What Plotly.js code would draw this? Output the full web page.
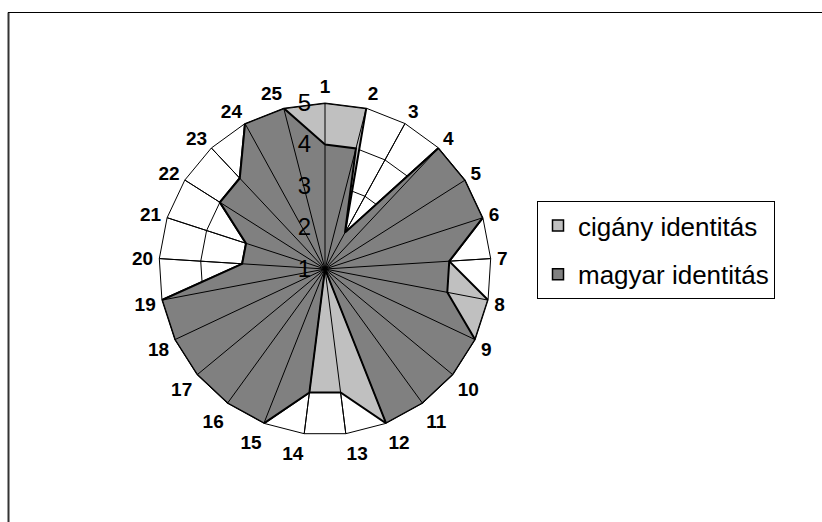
<!DOCTYPE html>
<html>
<head>
<meta charset="utf-8">
<script src="https://cdn.plot.ly/plotly-3.0.1.min.js"></script>
<style>
html,body{margin:0;padding:0;background:#fff;}
#chart{width:822px;height:522px;}
</style>
</head>
<body>
<div id="chart"></div>
<script>
// Data
const categories = ["1","2","3","4","5","6","7","8","9","10","11","12","13","14","15","16","17","18","19","20","21","22","23","24","25"];
const ciganyValues = [5,5,2,5,5,5,4,5,5,5,5,5,4,4,5,5,5,5,5,3,3,4,4,5,5];
const magyarValues = [4,4,2,5,5,5,4,4,5,5,5,5,1,4,5,5,5,5,5,3,3,4,4,5,5];
const seriesNames = ["cigány identitás", "magyar identitás"];
const radialTicks = [1,2,3,4,5];

const FONT = "Arial, 'Liberation Sans', sans-serif";
const closeLoop = a => a.concat([a[0]]);

const rMin = radialTicks[0], rMax = radialTicks[radialTicks.length-1];

// spokes drawn above fills (Excel draws them over the areas)
const spokeR = [], spokeT = [];
categories.forEach(c => { spokeR.push(rMin, rMax, null); spokeT.push(c, c, null); });

const traces = [
  {type:'scatterpolar', r:closeLoop(ciganyValues), theta:closeLoop(categories), mode:'lines',
   fill:'toself', fillcolor:'#C0C0C0', line:{color:'#000', width:2}, name:seriesNames[0],
   showlegend:false, hoverinfo:'skip'},
  {type:'scatterpolar', r:closeLoop(magyarValues), theta:closeLoop(categories), mode:'lines',
   fill:'toself', fillcolor:'#808080', line:{color:'#000', width:2}, name:seriesNames[1],
   showlegend:false, hoverinfo:'skip'},
  {type:'scatterpolar', r:spokeR, theta:spokeT, mode:'lines', line:{color:'#000', width:1},
   showlegend:false, hoverinfo:'skip', connectgaps:false},
  {type:'scatterpolar', r:[null], theta:[null], mode:'markers', name:seriesNames[0],
   legendgroup:'a', marker:{symbol:'square', size:11, color:'#C0C0C0', line:{color:'#000', width:1.5}}},
  {type:'scatterpolar', r:[null], theta:[null], mode:'markers', name:seriesNames[1],
   legendgroup:'b', marker:{symbol:'square', size:11, color:'#808080', line:{color:'#000', width:1.5}}}
];

const W = 822, H = 522;
const cx = 325, cy = 269, R = 166;

const layout = {
  width: W, height: H,
  margin:{l:0, r:0, t:0, b:0},
  paper_bgcolor:'#fff',
  font:{family:FONT, color:'#000'},
  showlegend:true,
  legend:{
    x: 537/W, y: 1-201/H, xanchor:'left', yanchor:'top',
    bordercolor:'#000', borderwidth:1, bgcolor:'#fff',
    font:{family:FONT, size:26, color:'#000'},
    traceorder:'grouped', tracegroupgap:12
  },
  polar:{
    domain:{x:[(cx-R)/W, (cx+R)/W], y:[(H-cy-R)/H, (H-cy+R)/H]},
    bgcolor:'#fff',
    gridshape:'linear',
    angularaxis:{
      type:'category', categoryarray:categories, direction:'clockwise', rotation:90,
      showline:true, linecolor:'#000', linewidth:1,
      showgrid:true, gridcolor:'#000', gridwidth:1,
      ticks:'outside', ticklen:2, tickcolor:'rgba(0,0,0,0)',
      tickfont:{family:FONT, size:19, color:'#000', weight:'bold'}
    },
    radialaxis:{
      range:[rMin, rMax], tickvals:radialTicks, angle:90, side:'counterclockwise',
      showline:false, showgrid:true, gridcolor:'#000', gridwidth:1,
      ticks:'outside', ticklen:5, tickcolor:'rgba(0,0,0,0)',
      tickangle:90, tickfont:{family:FONT, size:24, color:'#000'}
    }
  },
  shapes:[
    {type:'line', xref:'paper', yref:'paper', x0:8.5/W, x1:8.5/W, y0:-0.05, y1:1-12.5/H, line:{color:'#333', width:2}},
    {type:'line', xref:'paper', yref:'paper', x0:8/W, x1:1.05, y0:1-12.5/H, y1:1-12.5/H, line:{color:'#000', width:1}}
  ]
};

Plotly.newPlot('chart', traces, layout, {displayModeBar:false, staticPlot:true});
</script>
</body>
</html>
